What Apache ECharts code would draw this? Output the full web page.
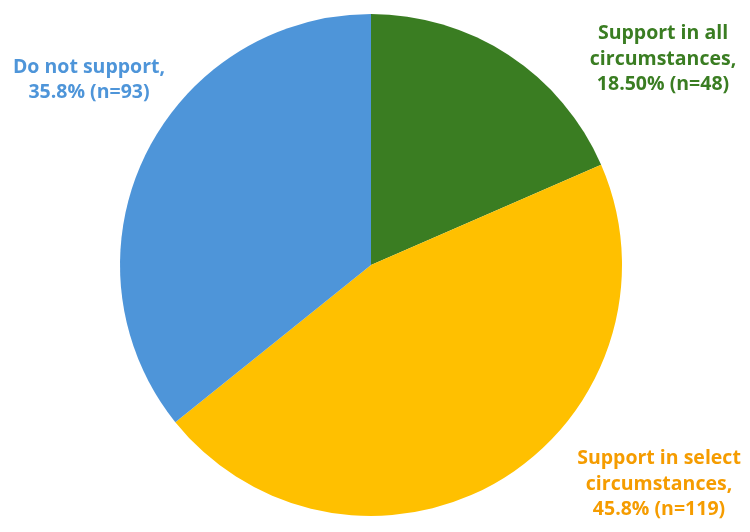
<!DOCTYPE html>
<html>
<head>
<meta charset="utf-8">
<script src="https://cdn.jsdelivr.net/npm/echarts@6/dist/echarts.min.js"></script>
<style>html,body{margin:0;padding:0;background:#fff;}#c{width:750px;height:532px;}</style>
</head>
<body>
<div id="c"></div>
<script>
var categories = ['Support in all circumstances', 'Support in select circumstances', 'Do not support'];
var counts = [48, 119, 93];
var percentLabels = ['18.50%', '45.8%', '35.8%'];
var labelTexts = [
  'Support in all\ncircumstances,\n18.50% (n=48)',
  'Support in select\ncircumstances,\n45.8% (n=119)',
  'Do not support,\n35.8% (n=93)'
];
var sliceColors = ['#3A7D22', '#FFC000', '#4E95D9'];
var textColors = ['#3A7D22', '#F59C00', '#4E95D9'];
var labelPos = [[663, 59], [659, 484], [89, 80]];

var chart = echarts.init(document.getElementById('c'));
chart.setOption({
  animation: false,
  series: [{
    type: 'pie',
    center: [371, 265],
    radius: 251,
    startAngle: 90,
    clockwise: true,
    avoidLabelOverlap: false,
    labelLine: {show: false},
    itemStyle: {borderWidth: 0},
    data: categories.map(function (c, i) {
      return {
        name: c,
        value: counts[i],
        itemStyle: {color: sliceColors[i]},
        label: {
          show: true,
          formatter: labelTexts[i],
          color: textColors[i],
          fontFamily: 'Open Sans',
          fontWeight: 'bold',
          fontSize: 19.5,
          lineHeight: 25.5,
          align: 'center'
        }
      };
    }),
    labelLayout: function (p) {
      var pos = labelPos[p.dataIndex];
      return {x: pos[0], y: pos[1], align: 'center', verticalAlign: 'middle'};
    }
  }]
});
</script>
</body>
</html>
